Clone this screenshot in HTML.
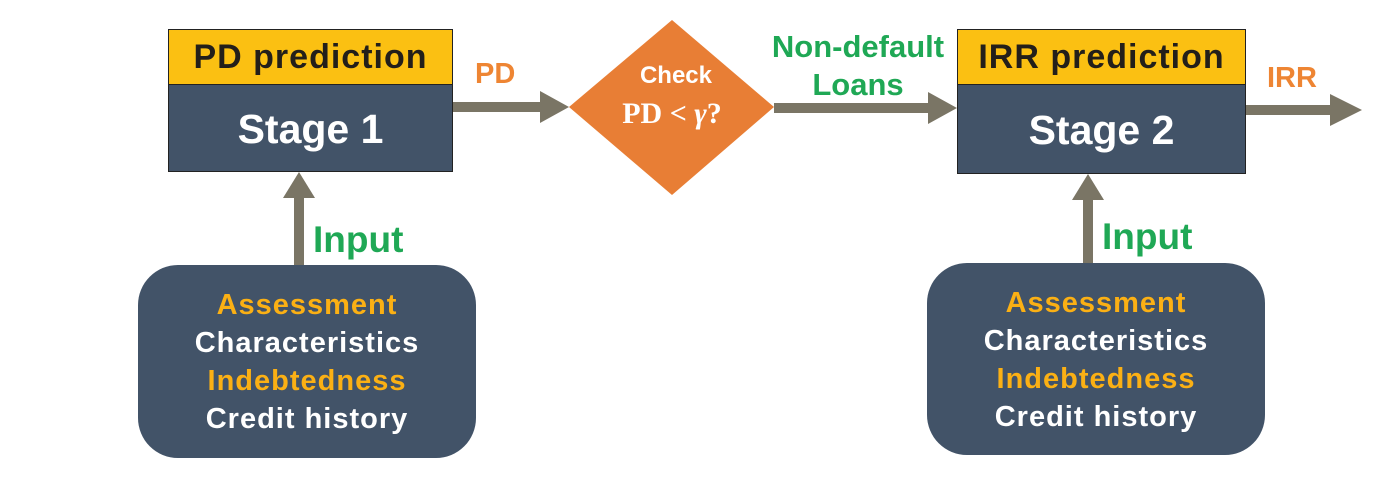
<!DOCTYPE html>
<html><head><style>
body{margin:0;width:1400px;height:479px;background:#fff;position:relative;overflow:hidden;font-family:"Liberation Sans",sans-serif;font-weight:bold}
div{position:absolute;box-sizing:border-box}
.y{background:#FBC012;border:1px solid #222;color:#231f1a;font-size:34px;letter-spacing:1px;text-align:center;line-height:55px}
.n{background:#425368;border:1px solid #222;color:#fff;font-size:41px;text-align:center}
.r{background:#425368;border-radius:40px;color:#fff;font-size:29px;letter-spacing:1px;text-align:center;font-weight:bold}
.r span{display:block;height:38px;line-height:38px}
.o{color:#FBB014}
.g{color:#1FA855}
.or{color:#EE8533}
</style></head><body>
<svg width="1400" height="479" style="position:absolute;left:0;top:0">
<g fill="#7A7565">
<rect x="453" y="102" width="90" height="10"/><polygon points="540,91 569,107 540,123"/>
<rect x="774" y="103" width="160" height="10"/><polygon points="928,92 957,108 928,124"/>
<rect x="1246" y="105" width="90" height="10"/><polygon points="1330,94 1362,110 1330,126"/>
<rect x="294" y="195" width="10" height="70"/><polygon points="283,198 299,172 315,198"/>
<rect x="1083" y="197" width="10" height="66"/><polygon points="1072,200 1088,174 1104,200"/>
</g>
<polygon points="672,20 774,107 672,195 569,107" fill="#E87E35"/>
<text x="676" y="83" fill="#fff" font-family="Liberation Sans" font-weight="bold" font-size="24" text-anchor="middle">Check</text>
<text x="672" y="123" fill="#fff" font-family="Liberation Serif" font-weight="bold" font-size="30" text-anchor="middle">PD &lt; <tspan font-style="italic">γ</tspan>?</text>
</svg>
<div class="y" style="left:168px;top:29px;width:285px;height:56px">PD prediction</div>
<div class="n" style="left:168px;top:84px;width:285px;height:88px;line-height:88px">Stage 1</div>
<div class="y" style="left:957px;top:29px;width:289px;height:56px">IRR prediction</div>
<div class="n" style="left:957px;top:84px;width:289px;height:90px;line-height:90px">Stage 2</div>
<div class="or" style="left:475px;top:58px;font-size:29px">PD</div>
<div class="or" style="left:1267px;top:62px;font-size:29px">IRR</div>
<div class="g" style="left:757px;top:28px;font-size:31px;text-align:center;width:202px;line-height:38px">Non-default<br>Loans</div>
<div class="g" style="left:313px;top:219px;font-size:37px">Input</div>
<div class="g" style="left:1102px;top:216px;font-size:37px">Input</div>
<div class="r" style="left:138px;top:265px;width:338px;height:193px;padding-top:21px"><span class="o">Assessment</span><span>Characteristics</span><span class="o">Indebtedness</span><span>Credit history</span></div>
<div class="r" style="left:927px;top:263px;width:338px;height:192px;padding-top:21px"><span class="o">Assessment</span><span>Characteristics</span><span class="o">Indebtedness</span><span>Credit history</span></div>
</body></html>
